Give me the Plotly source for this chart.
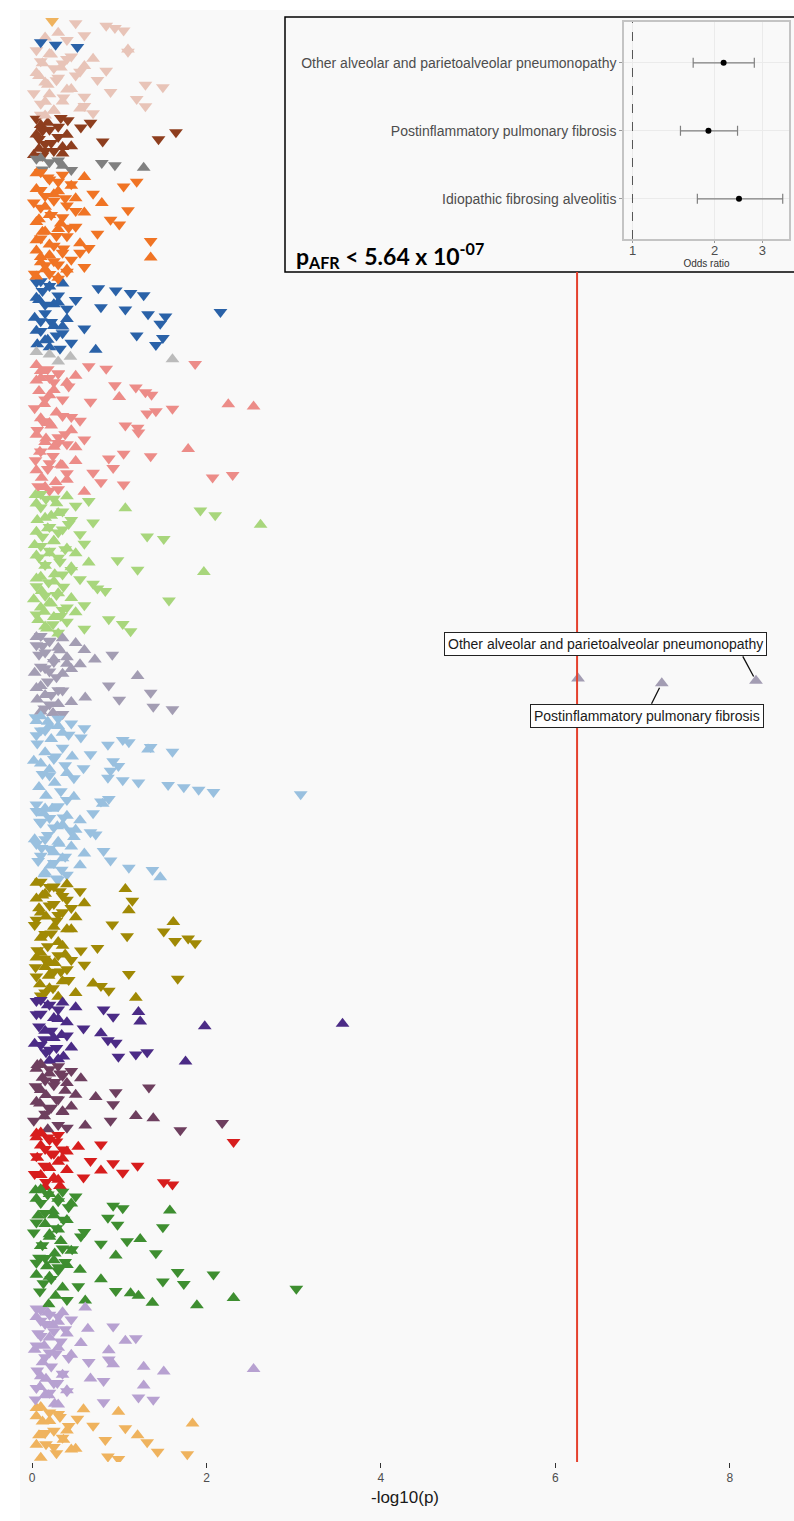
import math
import plotly.graph_objects as go

# ---------------- data ----------------
FONT = "Liberation Sans"

cat_colors = {
    "Infectious diseases": "#EFB35E",
    "Neoplasms": "#B7A1D1",
    "Endocrine/metabolic": "#3E8E30",
    "Hematopoietic": "#D71D1D",
    "Mental disorders": "#6E3F5F",
    "Neurological": "#4B2B86",
    "Sense organs": "#A08905",
    "Circulatory system": "#99C0DF",
    "Respiratory": "#A39DB3",
    "Digestive": "#A8D67C",
    "Genitourinary": "#EC8C88",
    "Pregnancy complications": "#BBBBBB",
    "Dermatologic": "#2A62A8",
    "Musculoskeletal": "#F07424",
    "Congenital anomalies": "#808080",
    "Symptoms": "#8E3E1E",
    "Injuries & poisonings": "#E8C4B8",
}

# -log10(p) per phenotype, in plotting order (top -> bottom); u = beta>0 (up), d = beta<0 (down)
x_infect_top = [0.23]
d_infect_top = "d"
x_injuries_a = [0.50, 0.85, 0.95, 1.05, 0.30, 0.60, 0.15, 0.40]
d_injuries_a = "ddddudud"
x_derm_top = [0.10, 0.27, 0.52]
d_derm_top = "ddd"
x_injuries_b = [1.10, 1.10, 0.20, 0.45, 0.70, 0.10, 0.35, 0.60, 0.25, 0.85,
                0.05, 0.50, 0.30, 0.75, 0.15, 1.30, 1.50, 0.40, 0.90, 0.20,
                0.60, 1.20, 0.35, 0.10, 1.30, 0.55, 0.25, 0.70, 0.15]
d_injuries_b = "udududdudd uddduddudu ddudduudu"
x_symptoms = [0.33, 0.41, 0.67, 0.10, 0.56, 0.20, 1.65, 0.05, 0.30, 1.45,
              0.81, 0.15, 0.45, 0.08, 0.25, 0.35, 0.12]
d_symptoms = "dddudddudd dduudud"
x_congenital = [0.10, 0.30, 0.80, 0.95, 1.28, 0.45]
d_congenital = "udddud"
x_musculo = [0.10, 0.35, 0.60, 0.20, 1.20, 0.45, 1.05, 0.05, 0.30, 0.70,
             0.15, 0.50, 0.25, 0.80, 0.40, 0.10, 1.10, 0.60, 0.20, 0.35,
             0.90, 0.05, 1.00, 0.50, 0.30, 0.15, 0.75, 0.40, 0.10, 1.36,
             0.55, 0.25, 0.65, 0.05, 0.35, 0.20, 1.36, 0.45, 0.10, 0.30,
             0.60, 0.15, 0.40, 0.20, 0.05, 0.30]
d_musculo = "ddudddduud dududdduud dudduudddd udduduudud duddud"
x_derm = [0.10, 0.35, 0.20, 0.76, 0.96, 1.13, 1.28, 0.05, 0.50, 0.30,
          0.15, 0.79, 1.07, 2.16, 1.33, 1.53, 0.40, 0.10, 1.47, 0.25,
          0.60, 0.05, 0.35, 1.20, 1.50, 0.15, 0.45, 1.42, 0.20, 0.73]
d_derm = "dudddddudu dddddduddu dudddudduu"
x_pregnancy = [0.05, 0.20, 0.44, 1.61, 0.30]
d_pregnancy = "uuuuu"
x_genito = [1.87, 0.65, 0.85, 0.10, 0.30, 0.50, 0.20, 0.05, 0.40, 0.95,
            1.19, 0.25, 1.30, 1.37, 1.00, 0.15, 0.67, 2.25, 2.54, 1.61,
            1.42, 1.32, 0.35, 0.10, 0.55, 0.20, 1.07, 1.21, 0.45, 1.22,
            0.05, 0.30, 0.60, 0.15, 0.40, 0.25, 1.79, 0.10, 1.05, 1.36,
            0.88, 0.50, 0.20, 0.35, 0.93, 0.05, 0.70, 2.30, 2.07, 0.40,
            0.79, 1.05, 0.15, 0.30, 0.60]
d_genito = "dddududuud duddudduud dddududdud udduduuddd dudududddu ddudu"
x_digestive = [0.10, 0.40, 0.25, 0.65, 0.05, 0.50, 1.07, 1.93, 0.30, 2.10,
               0.15, 0.45, 0.70, 2.62, 0.20, 0.35, 0.05, 0.55, 1.32, 1.51,
               0.25, 0.60, 0.10, 0.40, 0.20, 0.50, 0.05, 0.30, 0.98, 0.65,
               0.15, 0.45, 1.21, 1.97, 0.35, 0.10, 0.55, 0.25, 0.70, 0.05,
               0.75, 0.84, 0.30, 0.15, 0.45, 1.57, 0.20, 0.60, 0.10, 0.35,
               0.50, 0.05, 0.25, 0.88, 0.40, 1.04, 0.15, 0.60, 1.13, 0.30]
d_digestive = "duddududud uddudduddd udduduuddu dududududd ddudududud ududdduddu"
x_resp = [0.10, 0.35, 0.20, 0.50, 0.05, 0.30, 0.60, 0.15, 0.92, 0.40,
          0.72, 0.25, 0.55, 0.10, 0.45, 0.20, 0.35, 1.21, 6.26, 8.30,
          7.22, 0.88, 0.05, 0.30, 1.36, 0.15, 0.61, 1.00, 0.45, 0.20,
          1.39, 1.61, 0.10, 0.35]
d_resp = "dududuuddu udududuuuu ududduudud ddud"
x_circ = [0.10, 0.30, 0.05, 0.45, 0.20, 0.60, 0.15, 0.35, 0.05, 0.56,
          1.04, 1.11, 0.87, 1.36, 1.33, 1.61, 0.67, 0.46, 0.25, 0.93,
          0.10, 0.99, 0.59, 0.90, 0.40, 0.20, 0.87, 1.04, 1.22, 1.56,
          1.74, 1.91, 2.08, 3.08, 0.48, 0.88, 0.79, 0.81, 0.30, 0.15,
          0.05, 0.70, 0.40, 0.20, 0.55, 0.10, 0.35, 0.25, 0.50, 0.67,
          0.73, 0.48, 0.15, 0.30, 0.05, 0.45, 0.20, 0.82, 0.60, 0.10,
          0.35, 0.90, 0.25, 0.55, 1.11, 1.38, 0.15, 0.40, 1.47, 0.30]
d_circ = "udududdudd dddduddudd uddduddddd dddduddudu ddudududud dudududdud udduddudud"
x_sense = [0.10, 0.40, 0.25, 1.07, 0.55, 0.15, 0.35, 0.05, 1.15, 0.60,
           0.20, 0.45, 1.11, 0.10, 0.30, 0.50, 0.05, 1.62, 0.92, 0.25,
           0.40, 1.51, 0.15, 1.09, 1.79, 1.64, 1.87, 0.35, 0.75, 0.56,
           0.10, 0.30, 0.05, 0.45, 0.20, 0.60, 0.15, 0.40, 0.25, 1.11,
           0.05, 1.67, 0.35, 0.70, 0.79, 0.20, 0.88, 0.50, 0.10, 1.19]
d_sense = "dududududu dduudududu uddddddudd ududududdd dduudududu"
x_neuro = [0.10, 0.35, 0.20, 0.50, 0.82, 1.22, 0.05, 0.93, 0.30, 1.24,
           3.56, 1.98, 0.59, 0.15, 0.79, 0.40, 0.25, 0.87, 0.96, 0.10,
           0.45, 0.20, 1.32, 1.19, 0.99, 0.30, 1.76]
d_neuro = "dudududduu uuduududdd udddduu"
x_mental = [0.10, 0.30, 0.05, 0.45, 0.20, 0.35, 0.56, 0.15, 0.40, 0.25,
            1.34, 0.10, 0.96, 0.50, 0.73, 0.30, 0.05, 0.93, 0.45, 0.20,
            0.35, 0.15, 1.19, 1.39, 0.90, 2.18, 0.61, 0.40, 1.70]
d_mental = "ududududud duduududud uduuddudd"
x_hema = [0.10, 0.30, 0.05, 0.20, 2.31, 0.79, 0.53, 0.15, 0.40, 0.25,
          0.05, 0.35, 0.67, 0.93, 1.21, 0.20, 0.79, 1.04, 0.10, 0.59,
          0.30, 1.51, 1.61, 0.15]
d_hema = "ududddudud duddduudud uddu"
x_endo = [0.10, 0.35, 0.20, 0.50, 0.05, 0.30, 0.45, 0.93, 1.04, 1.58,
          0.15, 0.25, 0.87, 0.40, 0.05, 0.98, 1.50, 0.30, 0.60, 0.20,
          0.56, 1.24, 1.09, 0.79, 0.10, 0.35, 0.45, 1.42, 0.96, 0.15,
          0.25, 0.05, 0.40, 0.30, 0.55, 1.67, 2.08, 0.20, 0.79, 1.50,
          1.74, 0.53, 3.03, 0.96, 1.13, 1.22, 2.31, 0.61, 1.38, 1.89]
d_endo = "ududududdu dududddudu duddududud udududduud dddduuuuuu"
x_neo = [0.61, 0.10, 0.35, 0.20, 0.05, 0.45, 0.30, 0.15, 0.93, 0.64,
         0.25, 0.40, 0.10, 1.19, 1.07, 0.56, 0.05, 0.30, 0.88, 0.20,
         0.45, 0.15, 0.88, 0.65, 0.93, 1.28, 2.54, 1.51, 0.35, 0.10,
         0.67, 0.82, 0.25, 1.28, 0.05, 0.40, 0.20, 0.15, 1.22, 1.39,
         0.82, 0.30]
d_neo = "ududududdu dudduuduud uddduuuudu uddudududd du"
x_infect = [0.10, 0.59, 0.99, 0.30, 0.05, 0.52, 0.20, 1.84, 0.70, 1.07,
            0.40, 0.15, 1.21, 0.35, 0.84, 1.32, 0.05, 0.25, 0.45, 1.44,
            1.78, 0.87, 0.99]
d_infect = "uuududuudd ududddudud ddd"

# additional low-signal phenotypes (dense cluster near 0), spread through each band
xl_injuries = [0.05, 0.22, 0.40, 0.12, 0.33, 0.55, 0.08, 0.28, 0.18, 0.45, 0.02, 0.36, 0.15, 0.60, 0.25, 0.10]
dl_injuries = "duduududuu ddudud"
xl_symptoms = [0.05, 0.18, 0.30, 0.12, 0.40, 0.08, 0.22, 0.35, 0.15, 0.02]
dl_symptoms = "dudduddudu"
xl_congenital = [0.05, 0.20, 0.35, 0.12]
dl_congenital = "ddud"
xl_musculo = [0.05, 0.18, 0.30, 0.45, 0.10, 0.25, 0.38, 0.02, 0.15, 0.50,
              0.22, 0.08, 0.33, 0.42, 0.12, 0.28, 0.05, 0.20, 0.36, 0.55,
              0.10, 0.25, 0.15, 0.40, 0.03, 0.30]
dl_musculo = "uddududdud duududuudd uddudu"
xl_derm = [0.05, 0.20, 0.12, 0.30, 0.08, 0.25, 0.40, 0.15, 0.03, 0.22, 0.35, 0.10, 0.28, 0.18, 0.06, 0.32]
dl_derm = "dudduuddud udduud"
xl_genito = [0.05, 0.18, 0.30, 0.10, 0.25, 0.42, 0.08, 0.20, 0.35, 0.14,
             0.03, 0.28, 0.45, 0.12, 0.22, 0.06, 0.38, 0.16, 0.30, 0.50,
             0.09, 0.24, 0.04, 0.33, 0.18, 0.40, 0.11, 0.27, 0.07, 0.20]
dl_genito = "uddudduudu dudduddudu uddudduudd"
xl_digestive = [0.04, 0.16, 0.28, 0.10, 0.35, 0.22, 0.06, 0.42, 0.18, 0.30,
                0.12, 0.25, 0.03, 0.38, 0.20, 0.08, 0.32, 0.15, 0.45, 0.26,
                0.05, 0.19, 0.36, 0.11, 0.28, 0.02, 0.22, 0.40, 0.14, 0.33,
                0.07, 0.24, 0.17, 0.30]
dl_digestive = "ududduudud duududdudu udduduudud udud"
xl_resp = [0.05, 0.20, 0.12, 0.32, 0.08, 0.25, 0.40, 0.15, 0.03, 0.28, 0.18, 0.10, 0.35, 0.22, 0.06, 0.30, 0.14, 0.24]
dl_resp = "udduduudud dudduudu"
xl_circ = [0.04, 0.18, 0.30, 0.10, 0.42, 0.22, 0.06, 0.35, 0.15, 0.27,
           0.02, 0.38, 0.20, 0.12, 0.48, 0.26, 0.08, 0.33, 0.16, 0.40,
           0.05, 0.23, 0.13, 0.36, 0.09, 0.29, 0.44, 0.18, 0.03, 0.31,
           0.11, 0.25, 0.38, 0.07, 0.21, 0.34, 0.14, 0.28]
dl_circ = "duudduddud ududduudud duuddudduu duddudud"
xl_sense = [0.05, 0.20, 0.32, 0.12, 0.40, 0.25, 0.08, 0.35, 0.16, 0.28,
            0.03, 0.45, 0.22, 0.10, 0.30, 0.18, 0.06, 0.38, 0.14, 0.26,
            0.04, 0.33, 0.19, 0.42, 0.09, 0.24, 0.15, 0.30]
dl_sense = "udduddudud duduuddudu ddududdu"
xl_neuro = [0.05, 0.18, 0.30, 0.10, 0.25, 0.40, 0.08, 0.22, 0.34, 0.14, 0.03, 0.28, 0.16, 0.36, 0.20]
dl_neuro = "dudduuddud udduu"
xl_mental = [0.06, 0.20, 0.32, 0.12, 0.26, 0.04, 0.38, 0.16, 0.28, 0.09, 0.22, 0.35, 0.14, 0.02, 0.30, 0.18]
dl_mental = "uddudduudu duuddu"
xl_hema = [0.05, 0.18, 0.28, 0.10, 0.35, 0.22, 0.06, 0.30, 0.14, 0.40, 0.03, 0.25, 0.16, 0.32]
dl_hema = "uddudduudu dudu"
xl_endo = [0.04, 0.18, 0.30, 0.10, 0.42, 0.24, 0.07, 0.36, 0.15, 0.28,
           0.02, 0.20, 0.33, 0.12, 0.46, 0.26, 0.08, 0.38, 0.17, 0.30,
           0.05, 0.22, 0.13, 0.35, 0.09, 0.27, 0.40, 0.19]
dl_endo = "ududduudud duudduddud uddududu"
xl_neo = [0.05, 0.18, 0.30, 0.10, 0.24, 0.38, 0.07, 0.20, 0.33, 0.14,
          0.03, 0.27, 0.42, 0.12, 0.22, 0.06, 0.35, 0.16, 0.29, 0.09,
          0.40, 0.19, 0.04, 0.26]
dl_neo = "dudduddudu uddudduudu dudu"
xl_infect = [0.05, 0.20, 0.32, 0.12, 0.42, 0.25, 0.08, 0.36, 0.16, 0.50, 0.28, 0.10]
dl_infect = "uddudduudu du"

segments = [
    ("Infectious diseases", x_infect_top, d_infect_top, [], ""),
    ("Injuries & poisonings", x_injuries_a, d_injuries_a, [], ""),
    ("Dermatologic", x_derm_top, d_derm_top, [], ""),
    ("Injuries & poisonings", x_injuries_b, d_injuries_b, xl_injuries, dl_injuries),
    ("Symptoms", x_symptoms, d_symptoms, xl_symptoms, dl_symptoms),
    ("Congenital anomalies", x_congenital, d_congenital, xl_congenital, dl_congenital),
    ("Musculoskeletal", x_musculo, d_musculo, xl_musculo, dl_musculo),
    ("Dermatologic", x_derm, d_derm, xl_derm, dl_derm),
    ("Pregnancy complications", x_pregnancy, d_pregnancy, [], ""),
    ("Genitourinary", x_genito, d_genito, xl_genito, dl_genito),
    ("Digestive", x_digestive, d_digestive, xl_digestive, dl_digestive),
    ("Respiratory", x_resp, d_resp, xl_resp, dl_resp),
    ("Circulatory system", x_circ, d_circ, xl_circ, dl_circ),
    ("Sense organs", x_sense, d_sense, xl_sense, dl_sense),
    ("Neurological", x_neuro, d_neuro, xl_neuro, dl_neuro),
    ("Mental disorders", x_mental, d_mental, xl_mental, dl_mental),
    ("Hematopoietic", x_hema, d_hema, xl_hema, dl_hema),
    ("Endocrine/metabolic", x_endo, d_endo, xl_endo, dl_endo),
    ("Neoplasms", x_neo, d_neo, xl_neo, dl_neo),
    ("Infectious diseases", x_infect, d_infect, xl_infect, dl_infect),
]

# labelled significant phenotypes (Respiratory)
sig_labels = {
    8.30: "Other alveolar and parietoalveolar pneumonopathy",
    7.22: "Postinflammatory pulmonary fibrosis",
}

p_threshold = 5.64e-07

forest_labels = ["Other alveolar and parietoalveolar pneumonopathy",
                 "Postinflammatory pulmonary fibrosis",
                 "Idiopathic fibrosing alveolitis"]
forest_or = [2.16, 1.90, 2.46]
forest_lo = [1.67, 1.50, 1.73]
forest_hi = [2.80, 2.43, 3.56]

# ---------------- build ----------------
W, H = 794, 1521
L, R, T, B = 20, 4, 10, 59
PW, PH = W - L - R, H - T - B
BG = "#F9F9F9"


def px_x(p):
    return (p - L) / PW


def px_y(p):
    return (H - B - p) / PH


def sym(c):
    return "triangle-up" if c == "u" else "triangle-down"


groups = {}
idx = 0
pos = {}
for cat, xv, dv, xl, dl in segments:
    d = dv.replace(" ", "")
    dd = dl.replace(" ", "")
    if len(d) != len(xv) or len(dd) != len(xl):
        raise ValueError(f"{cat}: {len(xv)}/{len(d)} {len(xl)}/{len(dd)}")
    g = groups.setdefault(cat, {"lo": {"x": [], "y": [], "s": []},
                                "hi": {"x": [], "y": [], "s": []}})
    n = len(xv)
    for k, (xval, s) in enumerate(zip(xl, dd)):
        g["lo"]["x"].append(xval)
        g["lo"]["y"].append(idx + (k + 0.5) * n / len(xl) - 0.5)
        g["lo"]["s"].append(sym(s))
    for xval, s in zip(xv, d):
        g["hi"]["x"].append(xval)
        g["hi"]["y"].append(idx)
        g["hi"]["s"].append(sym(s))
        if cat == "Respiratory" and xval in sig_labels:
            pos[xval] = idx
        idx += 1
N = idx

fig = go.Figure()
for layer in ("lo", "hi"):
    for cat, g in groups.items():
        gg = g[layer]
        if not gg["x"]:
            continue
        fig.add_trace(go.Scatter(
            x=gg["x"], y=gg["y"], mode="markers", name=cat,
            marker=dict(symbol=gg["s"], size=12, color=cat_colors[cat], line=dict(width=0)),
            xaxis="x", yaxis="y", hoverinfo="x+name"))

# forest plot inset
fig.add_trace(go.Scatter(
    x=forest_or, y=forest_labels, mode="markers",
    marker=dict(color="black", size=6),
    error_x=dict(type="data", symmetric=False,
                 array=[h - o for h, o in zip(forest_hi, forest_or)],
                 arrayminus=[o - l for o, l in zip(forest_or, forest_lo)],
                 color="#808080", thickness=1.2, width=5),
    xaxis="x2", yaxis="y2", showlegend=False))

x2_range = [-0.0312, 0.5745]
inset_y0 = px_y(272)
fig.update_layout(
    width=W, height=H, margin=dict(l=L, r=R, t=T, b=B),
    paper_bgcolor="white", plot_bgcolor=BG, showlegend=False, hovermode=False,
    font=dict(family=FONT),
    xaxis=dict(range=[-0.138, 8.69], tickvals=[0, 2, 4, 6, 8], ticks="outside",
               ticklen=5, tickwidth=1.3, tickcolor="#333333", showgrid=False,
               zeroline=False, showline=False,
               tickfont=dict(size=12, color="#4D4D4D", family=FONT),
               title=dict(text="-log10(p)", font=dict(size=17, color="#1A1A1A", family=FONT),
                          standoff=6),
               domain=[0, 1], anchor="y"),
    yaxis=dict(range=[N + 0.3, -4.65], visible=False, domain=[0, 1], anchor="x"),
    xaxis2=dict(type="log", range=x2_range, domain=[px_x(624), px_x(789)],
                anchor="y2", tickvals=[1, 2, 3], ticktext=["1", "2", "3"],
                ticks="outside", ticklen=2, tickcolor="#999999", ticklabelstandoff=-3,
                showline=True, mirror=True, linecolor="#C4C4C4", linewidth=1.5,
                showgrid=True, gridcolor="#EBEBEB", zeroline=False,
                tickfont=dict(size=13, color="#4D4D4D", family=FONT),
                title=dict(text="Odds ratio", font=dict(size=10, color="#333333", family=FONT),
                           standoff=0)),
    yaxis2=dict(type="category", categoryorder="array", categoryarray=forest_labels,
                range=[2.59, -0.6], domain=[px_y(239), px_y(22)], anchor="x2",
                ticks="outside", ticklen=3, tickcolor="#999999",
                showline=True, mirror=True, linecolor="#C4C4C4", linewidth=1.5,
                showgrid=True, gridcolor="#EBEBEB", zeroline=False,
                tickfont=dict(size=14, color="#4D4D4D", family=FONT)),
)

or1_frac = (math.log10(1) - x2_range[0]) / (x2_range[1] - x2_range[0])
shapes = [
    # grey plot background including margins
    dict(type="rect", xref="paper", yref="paper", x0=0, x1=(W - L) / PW,
         y0=-B / PH, y1=1, fillcolor=BG, line=dict(width=0), layer="below"),
    # inset box
    dict(type="rect", xref="paper", yref="paper", x0=px_x(285), x1=px_x(800),
         y0=inset_y0, y1=px_y(17), fillcolor=BG, line=dict(color="black", width=1.5),
         layer="below"),
    # significance threshold
    dict(type="line", xref="x", yref="paper", x0=-math.log10(p_threshold),
         x1=-math.log10(p_threshold), y0=0, y1=inset_y0,
         line=dict(color="#E5412D", width=2), layer="above"),
    # OR = 1 reference line
    dict(type="line", xref="x2 domain", yref="y2 domain", x0=or1_frac, x1=or1_frac,
         y0=0, y1=1, line=dict(color="#555555", width=1, dash="dash"), layer="above"),
]
fig.update_layout(shapes=shapes)

fig.add_annotation(
    xref="paper", yref="paper", x=px_x(294), y=px_y(255), xanchor="left", yanchor="middle",
    text="<b>p<sub>AFR</sub> &lt; 5.64 x 10<sup>-07</sup></b>", showarrow=False,
    font=dict(family="Lato", size=23, color="black"))

# label boxes (offset in px from the point) and short connector lines
box_shift = {8.30: (-150, 37), 7.22: (-15, -33)}
line_from = {8.30: (-14, -26), 7.22: (-11, 22)}
for xval, label in sig_labels.items():
    xs, ys = box_shift[xval]
    fig.add_annotation(
        x=xval, y=pos[xval], xref="x", yref="y", text=label, showarrow=False,
        xshift=xs, yshift=ys, bgcolor="white", bordercolor="#222222",
        borderwidth=1, borderpad=3,
        font=dict(size=14, color="#1A1A1A", family=FONT))
    ax, ay = line_from[xval]
    fig.add_annotation(
        x=xval, y=pos[xval], xref="x", yref="y", text="", showarrow=True,
        arrowhead=0, arrowwidth=1.3, arrowcolor="#111111", ax=ax, ay=ay, standoff=5)

fig.write_html("out.html", config={"displayModeBar": False},
               post_script="document.body.style.margin='0';document.body.style.padding='0';")
